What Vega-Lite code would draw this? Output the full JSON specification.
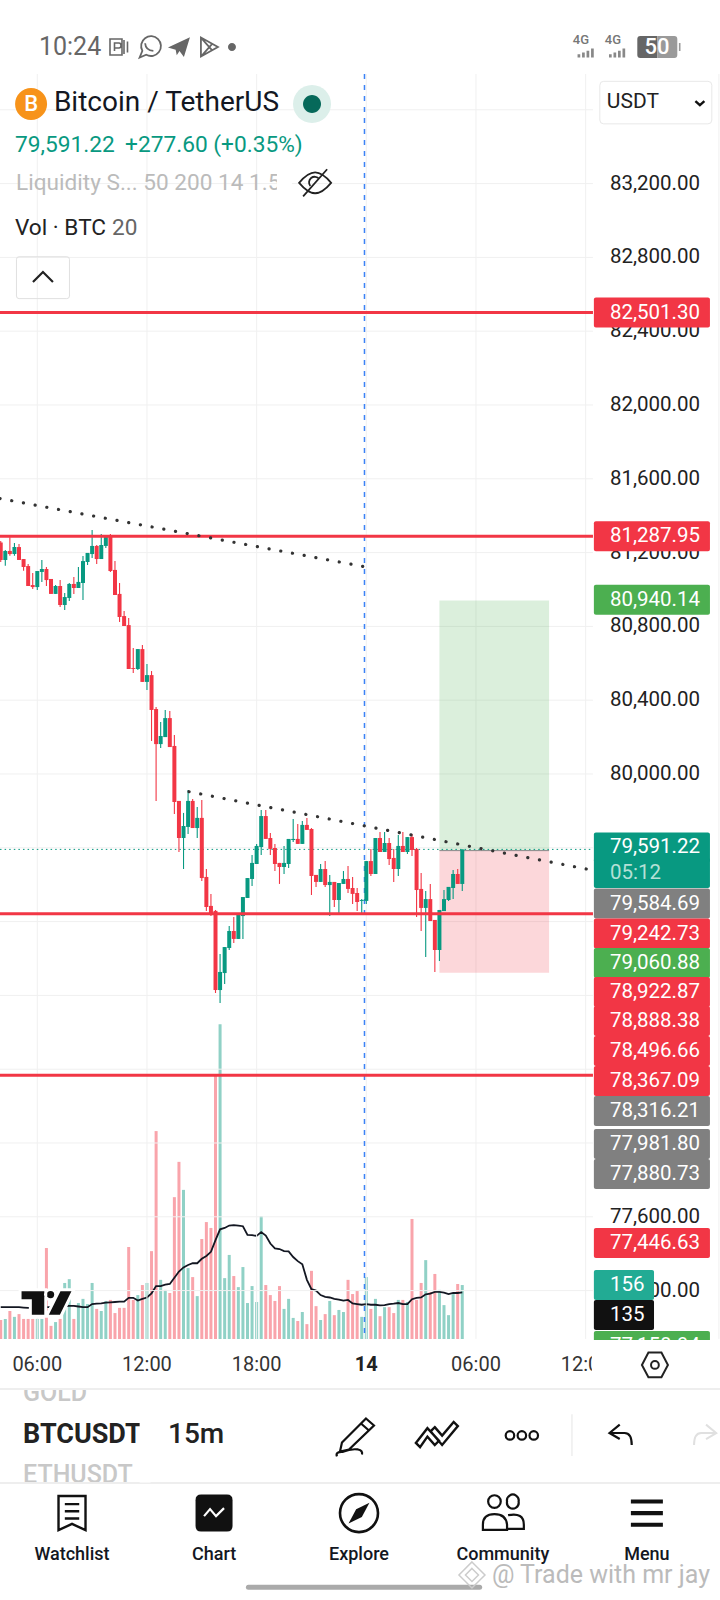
{
  "$schema": "https://vega.github.io/schema/vega-lite/v6.json",
  "width": 720,
  "height": 1600,
  "padding": 0,
  "autosize": "none",
  "background": "#ffffff",
  "config": {
    "view": {"stroke": null},
    "axis": {"disable": true},
    "legend": {"disable": true},
    "text": {"font": "Roboto", "baseline": "middle"}
  },
  "datasets": {
    "candles": [
      {"t":4,"open":81254,"high":81263,"low":81149,"close":81160,"vol":55,"ma":92},
      {"t":4.25,"open":81160,"high":81214,"low":81129,"close":81209,"vol":58,"ma":92},
      {"t":4.5,"open":81209,"high":81283,"low":81183,"close":81192,"vol":81,"ma":92},
      {"t":4.75,"open":81192,"high":81252,"low":81183,"close":81230,"vol":64,"ma":92},
      {"t":5,"open":81230,"high":81247,"low":81160,"close":81160,"vol":72,"ma":92},
      {"t":5.25,"open":81165,"high":81165,"low":81102,"close":81122,"vol":58,"ma":91},
      {"t":5.5,"open":81127,"high":81138,"low":81019,"close":81019,"vol":58,"ma":90},
      {"t":5.75,"open":81024,"high":81089,"low":81003,"close":81013,"vol":58,"ma":90},
      {"t":6,"open":81013,"high":81100,"low":80997,"close":81100,"vol":58,"ma":90},
      {"t":6.25,"open":81095,"high":81160,"low":81041,"close":81111,"vol":58,"ma":91},
      {"t":6.5,"open":81111,"high":81122,"low":81019,"close":81051,"vol":263,"ma":92},
      {"t":6.75,"open":81057,"high":81057,"low":80976,"close":80976,"vol":38,"ma":92},
      {"t":7,"open":80976,"high":81024,"low":80976,"close":81019,"vol":49,"ma":93},
      {"t":7.25,"open":81019,"high":81051,"low":80905,"close":80916,"vol":58,"ma":94},
      {"t":7.5,"open":80916,"high":80981,"low":80889,"close":80959,"vol":162,"ma":95},
      {"t":7.75,"open":80954,"high":81035,"low":80938,"close":81030,"vol":173,"ma":96},
      {"t":8,"open":81030,"high":81068,"low":80976,"close":81008,"vol":58,"ma":96},
      {"t":8.25,"open":81008,"high":81122,"low":81008,"close":81041,"vol":104,"ma":94},
      {"t":8.5,"open":81035,"high":81181,"low":80943,"close":81154,"vol":116,"ma":92},
      {"t":8.75,"open":81149,"high":81198,"low":81133,"close":81198,"vol":101,"ma":92},
      {"t":9,"open":81192,"high":81322,"low":81171,"close":81236,"vol":162,"ma":101},
      {"t":9.25,"open":81236,"high":81241,"low":81138,"close":81165,"vol":87,"ma":102},
      {"t":9.5,"open":81165,"high":81301,"low":81165,"close":81241,"vol":81,"ma":103},
      {"t":9.75,"open":81236,"high":81295,"low":81225,"close":81290,"vol":110,"ma":105},
      {"t":10,"open":81290,"high":81301,"low":81095,"close":81100,"vol":113,"ma":106},
      {"t":10.25,"open":81106,"high":81154,"low":80970,"close":80970,"vol":75,"ma":107},
      {"t":10.5,"open":80976,"high":81035,"low":80824,"close":80851,"vol":90,"ma":108},
      {"t":10.75,"open":80856,"high":80883,"low":80802,"close":80802,"vol":90,"ma":108},
      {"t":11,"open":80807,"high":80845,"low":80569,"close":80569,"vol":266,"ma":119},
      {"t":11.25,"open":80574,"high":80683,"low":80547,"close":80569,"vol":113,"ma":119},
      {"t":11.5,"open":80569,"high":80677,"low":80564,"close":80677,"vol":127,"ma":111},
      {"t":11.75,"open":80677,"high":80699,"low":80499,"close":80499,"vol":156,"ma":116},
      {"t":12,"open":80499,"high":80596,"low":80455,"close":80536,"vol":162,"ma":120},
      {"t":12.25,"open":80536,"high":80558,"low":80179,"close":80347,"vol":254,"ma":132},
      {"t":12.5,"open":80352,"high":80363,"low":79854,"close":80162,"vol":601,"ma":153},
      {"t":12.75,"open":80162,"high":80282,"low":80141,"close":80206,"vol":171,"ma":153},
      {"t":13,"open":80200,"high":80347,"low":80200,"close":80303,"vol":142,"ma":157},
      {"t":13.25,"open":80303,"high":80341,"low":80146,"close":80146,"vol":133,"ma":159},
      {"t":13.5,"open":80152,"high":80211,"low":79783,"close":79848,"vol":410,"ma":177},
      {"t":13.75,"open":79854,"high":79854,"low":79577,"close":79653,"vol":512,"ma":195},
      {"t":14,"open":79653,"high":79789,"low":79485,"close":79718,"vol":431,"ma":207},
      {"t":14.25,"open":79713,"high":79913,"low":79675,"close":79854,"vol":205,"ma":214},
      {"t":14.5,"open":79854,"high":79865,"low":79707,"close":79707,"vol":179,"ma":219},
      {"t":14.75,"open":79707,"high":79821,"low":79653,"close":79762,"vol":124,"ma":219},
      {"t":15,"open":79762,"high":79859,"low":79420,"close":79436,"vol":289,"ma":232},
      {"t":15.25,"open":79442,"high":79485,"low":79258,"close":79279,"vol":338,"ma":240},
      {"t":15.5,"open":79285,"high":79350,"low":79230,"close":79241,"vol":321,"ma":252},
      {"t":15.75,"open":79258,"high":79263,"low":78813,"close":78829,"vol":763,"ma":286},
      {"t":16,"open":78829,"high":79024,"low":78759,"close":78927,"vol":910,"ma":317},
      {"t":16.25,"open":78921,"high":79062,"low":78862,"close":79062,"vol":176,"ma":321},
      {"t":16.5,"open":79057,"high":79176,"low":79046,"close":79149,"vol":243,"ma":328},
      {"t":16.75,"open":79149,"high":79225,"low":79084,"close":79106,"vol":182,"ma":329},
      {"t":17,"open":79106,"high":79236,"low":79106,"close":79236,"vol":150,"ma":328},
      {"t":17.25,"open":79230,"high":79333,"low":79106,"close":79333,"vol":208,"ma":326},
      {"t":17.5,"open":79328,"high":79436,"low":79328,"close":79436,"vol":104,"ma":301},
      {"t":17.75,"open":79431,"high":79561,"low":79393,"close":79518,"vol":153,"ma":300},
      {"t":18,"open":79512,"high":79621,"low":79512,"close":79610,"vol":107,"ma":298},
      {"t":18.25,"open":79604,"high":79805,"low":79561,"close":79772,"vol":355,"ma":309},
      {"t":18.5,"open":79772,"high":79805,"low":79648,"close":79648,"vol":156,"ma":299},
      {"t":18.75,"open":79653,"high":79680,"low":79561,"close":79594,"vol":127,"ma":276},
      {"t":19,"open":79599,"high":79621,"low":79474,"close":79512,"vol":110,"ma":262},
      {"t":19.25,"open":79518,"high":79518,"low":79404,"close":79496,"vol":153,"ma":260},
      {"t":19.5,"open":79496,"high":79610,"low":79458,"close":79518,"vol":87,"ma":254},
      {"t":19.75,"open":79512,"high":79648,"low":79491,"close":79648,"vol":116,"ma":253},
      {"t":20,"open":79642,"high":79756,"low":79632,"close":79648,"vol":61,"ma":237},
      {"t":20.25,"open":79648,"high":79729,"low":79621,"close":79621,"vol":52,"ma":225},
      {"t":20.5,"open":79621,"high":79745,"low":79621,"close":79724,"vol":78,"ma":216},
      {"t":20.75,"open":79724,"high":79762,"low":79697,"close":79697,"vol":43,"ma":171},
      {"t":21,"open":79702,"high":79707,"low":79344,"close":79447,"vol":197,"ma":144},
      {"t":21.25,"open":79453,"high":79453,"low":79388,"close":79415,"vol":95,"ma":140},
      {"t":21.5,"open":79415,"high":79512,"low":79415,"close":79485,"vol":55,"ma":127},
      {"t":21.75,"open":79485,"high":79528,"low":79388,"close":79398,"vol":72,"ma":122},
      {"t":22,"open":79398,"high":79453,"low":79230,"close":79415,"vol":110,"ma":120},
      {"t":22.25,"open":79415,"high":79415,"low":79279,"close":79317,"vol":69,"ma":116},
      {"t":22.5,"open":79317,"high":79409,"low":79247,"close":79409,"vol":84,"ma":114},
      {"t":22.75,"open":79404,"high":79474,"low":79404,"close":79431,"vol":78,"ma":111},
      {"t":23,"open":79431,"high":79501,"low":79355,"close":79377,"vol":171,"ma":113},
      {"t":23.25,"open":79382,"high":79442,"low":79295,"close":79350,"vol":130,"ma":103},
      {"t":23.5,"open":79355,"high":79382,"low":79257,"close":79306,"vol":139,"ma":101},
      {"t":23.75,"open":79312,"high":79322,"low":79236,"close":79317,"vol":64,"ma":99},
      {"t":24,"open":79312,"high":79528,"low":79295,"close":79528,"vol":179,"ma":101},
      {"t":24.25,"open":79528,"high":79593,"low":79447,"close":79458,"vol":87,"ma":99},
      {"t":24.5,"open":79458,"high":79653,"low":79458,"close":79653,"vol":116,"ma":99},
      {"t":24.75,"open":79653,"high":79686,"low":79577,"close":79577,"vol":66,"ma":97},
      {"t":25,"open":79577,"high":79686,"low":79577,"close":79626,"vol":92,"ma":98},
      {"t":25.25,"open":79626,"high":79653,"low":79507,"close":79539,"vol":92,"ma":101},
      {"t":25.5,"open":79545,"high":79593,"low":79415,"close":79485,"vol":75,"ma":102},
      {"t":25.75,"open":79485,"high":79669,"low":79447,"close":79610,"vol":113,"ma":104},
      {"t":26,"open":79610,"high":79686,"low":79577,"close":79577,"vol":113,"ma":101},
      {"t":26.25,"open":79577,"high":79658,"low":79566,"close":79658,"vol":107,"ma":101},
      {"t":26.5,"open":79658,"high":79675,"low":79556,"close":79588,"vol":347,"ma":115},
      {"t":26.75,"open":79593,"high":79599,"low":79225,"close":79371,"vol":113,"ma":119},
      {"t":27,"open":79377,"high":79463,"low":79149,"close":79274,"vol":162,"ma":120},
      {"t":27.25,"open":79274,"high":79366,"low":79008,"close":79322,"vol":228,"ma":129},
      {"t":27.5,"open":79322,"high":79404,"low":79203,"close":79203,"vol":136,"ma":131},
      {"t":27.75,"open":79209,"high":79209,"low":78927,"close":79046,"vol":188,"ma":136},
      {"t":28,"open":79046,"high":79263,"low":78986,"close":79263,"vol":142,"ma":136},
      {"t":28.25,"open":79257,"high":79371,"low":79257,"close":79322,"vol":98,"ma":134},
      {"t":28.5,"open":79317,"high":79388,"low":79312,"close":79388,"vol":69,"ma":130},
      {"t":28.75,"open":79382,"high":79480,"low":79322,"close":79458,"vol":133,"ma":133},
      {"t":29,"open":79458,"high":79485,"low":79404,"close":79404,"vol":159,"ma":133},
      {"t":29.25,"open":79404,"high":79591.22,"low":79366,"close":79591.22,"vol":156,"ma":135}
    ],
    "levels": [
      {"price": 82501.30},
      {"price": 81287.95},
      {"price": 79242.73},
      {"price": 78367.09}
    ],
    "trends": [
      {"line": "upper", "t": 3.96, "price": 81493},
      {"line": "upper", "t": 24.2, "price": 81118},
      {"line": "lower", "t": 14.3, "price": 79904},
      {"line": "lower", "t": 36.5, "price": 79476}
    ],
    "position": [
      {"kind": "target", "from": 28, "to": 34, "entry": 79584.69, "exit": 80940.14},
      {"kind": "stop", "from": 28, "to": 34, "entry": 79584.69, "exit": 78922.87}
    ],
    "priceTicks": [
      {"price": 83600, "label": ""},
      {"price": 83200, "label": "83,200.00"},
      {"price": 82800, "label": "82,800.00"},
      {"price": 82400, "label": "82,400.00"},
      {"price": 82000, "label": "82,000.00"},
      {"price": 81600, "label": "81,600.00"},
      {"price": 81200, "label": "81,200.00"},
      {"price": 80800, "label": "80,800.00"},
      {"price": 80400, "label": "80,400.00"},
      {"price": 80000, "label": "80,000.00"},
      {"price": 79600, "label": ""},
      {"price": 79200, "label": ""},
      {"price": 78800, "label": ""},
      {"price": 78400, "label": ""},
      {"price": 78000, "label": ""},
      {"price": 77600, "label": "77,600.00"},
      {"price": 77200, "label": "77,200.00"}
    ],
    "timeTicks": [
      {"t": 6, "label": "06:00"},
      {"t": 12, "label": "12:00"},
      {"t": 18, "label": "18:00"},
      {"t": 24, "label": "14"},
      {"t": 30, "label": "06:00"},
      {"t": 36, "label": "12:00"}
    ],
    "tags": [
      {"label": "82,501.30", "kind": "level", "at": 82501},
      {"label": "81,287.95", "kind": "level", "at": 81288},
      {"label": "80,940.14", "kind": "target", "at": 80945},
      {"label": "79,591.22", "kind": "last", "at": 79602},
      {"label": "05:12", "kind": "timer", "at": 79463},
      {"label": "79,584.69", "kind": "muted", "at": 79298},
      {"label": "79,242.73", "kind": "level", "at": 79135},
      {"label": "79,060.88", "kind": "target", "at": 78976},
      {"label": "78,922.87", "kind": "level", "at": 78818},
      {"label": "78,888.38", "kind": "level", "at": 78661},
      {"label": "78,496.66", "kind": "level", "at": 78499},
      {"label": "78,367.09", "kind": "level", "at": 78336},
      {"label": "78,316.21", "kind": "muted", "at": 78173},
      {"label": "77,981.80", "kind": "muted", "at": 77995},
      {"label": "77,880.73", "kind": "muted", "at": 77832},
      {"label": "77,446.63", "kind": "level", "at": 77458},
      {"label": "77,158.94", "kind": "target", "at": 76900}
    ],
    "volumeTags": [
      {"label": "156", "kind": "vol", "at": 77230},
      {"label": "135", "kind": "ma", "at": 77068}
    ],
    "panelNotes": [
      {"text": "GOLD", "kind": "faded", "t": 5.22, "p": 76643},
      {"text": "15m", "kind": "pair", "t": 13.15, "p": 76415},
      {"text": "ETHUSDT", "kind": "faded", "t": 5.22, "p": 76198}
    ],
    "strips": [
      {"from": 3.96, "to": 43.35, "top": 76932, "bottom": 76667},
      {"from": 3.96, "to": 43.35, "top": 76157, "bottom": 75523}
    ],
    "clips": [
      {"from": 11.6, "to": 12.2, "top": 76660, "bottom": 76160},
      {"from": 36.34, "to": 37.77, "top": 76905, "bottom": 76688},
      {"from": 19.11, "to": 19.93, "top": 83274, "bottom": 83138}
    ],
    "notes": [
      {"text": "10:24", "kind": "status", "t": 6.09, "p": 83940},
      {"text": "Bitcoin / TetherUS", "kind": "title", "t": 6.91, "p": 83637},
      {"text": "79,591.22", "kind": "quote", "t": 4.78, "p": 83410},
      {"text": "+277.60 (+0.35%)", "kind": "quote", "t": 10.8, "p": 83410},
      {"text": "Liquidity S... 50 200 14 1.5", "kind": "study", "t": 4.84, "p": 83204},
      {"text": "Vol · BTC", "kind": "volume", "t": 4.78, "p": 82960},
      {"text": "20", "kind": "volumeN", "t": 10.09, "p": 82960},
      {"text": "USDT", "kind": "usdt", "t": 37.16, "p": 83642},
      {"text": "@ Trade with mr jay", "kind": "mark", "t": 30.87, "p": 75659}
    ],
    "centerNotes": [
      {"text": "Watchlist", "kind": "nav", "t": 7.9, "p": 75767},
      {"text": "Chart", "kind": "nav", "t": 15.67, "p": 75767},
      {"text": "Explore", "kind": "nav", "t": 23.6, "p": 75767},
      {"text": "Community", "kind": "nav", "t": 31.47, "p": 75767},
      {"text": "Menu", "kind": "nav", "t": 39.35, "p": 75767},
      {"text": "B", "kind": "coin", "t": 5.66, "p": 83631},
      {"text": "50", "kind": "battery", "t": 39.9, "p": 83940},
      {"text": "4G", "kind": "net", "t": 35.74, "p": 83978},
      {"text": "4G", "kind": "net", "t": 37.49, "p": 83978}
    ],
    "icons": [
      {"icon": "coin", "t": 5.66, "p": 83631},
      {"icon": "liveBg", "t": 21.03, "p": 83631},
      {"icon": "liveDot", "t": 21.03, "p": 83631},
      {"icon": "dot", "t": 16.65, "p": 83940},
      {"icon": "telegram", "t": 13.75, "p": 83940},
      {"icon": "pcard", "t": 10.47, "p": 83940},
      {"icon": "whatsapp", "t": 12.11, "p": 83940},
      {"icon": "play", "t": 15.39, "p": 83940},
      {"icon": "signal", "t": 36.0, "p": 83908},
      {"icon": "signal", "t": 37.72, "p": 83908},
      {"icon": "battLeft", "t": 39.92, "p": 83940},
      {"icon": "battRight", "t": 39.92, "p": 83940},
      {"icon": "eye", "t": 21.2, "p": 83204},
      {"icon": "boxSmall", "t": 6.31, "p": 82690},
      {"icon": "chevUp", "t": 6.31, "p": 82694},
      {"icon": "boxWide", "t": 39.84, "p": 83639},
      {"icon": "chevDown", "t": 42.25, "p": 83637},
      {"icon": "hexagon", "t": 39.79, "p": 76797},
      {"icon": "pencil", "t": 23.38, "p": 76404},
      {"icon": "zigzag", "t": 27.86, "p": 76420},
      {"icon": "more", "t": 32.51, "p": 76415},
      {"icon": "undo", "t": 37.93, "p": 76415},
      {"icon": "redo", "t": 42.52, "p": 76415},
      {"icon": "watchlist", "t": 7.9, "p": 75994},
      {"icon": "chartBox", "t": 15.67, "p": 75994},
      {"icon": "chartZig", "t": 15.67, "p": 75994},
      {"icon": "compass", "t": 23.6, "p": 75994},
      {"icon": "needle", "t": 23.6, "p": 75994},
      {"icon": "community", "t": 31.47, "p": 75994},
      {"icon": "menu", "t": 39.35, "p": 75994},
      {"icon": "markLogo", "t": 29.78, "p": 75659}
    ]
  },
  "resolve": {"scale": {"y": "independent"}},
  "layer": [
    {
      "data": {"name": "candles"},
      "layer": [
        {
          "mark": {"type": "bar", "size": 3, "orient": "vertical", "opacity": 0.45},
          "encoding": {
            "x": {"field": "t", "type": "quantitative", "scale": {"domain": [3.96, 43.35], "nice": false, "zero": false, "padding": 0}},
            "y": {"field": "vol", "type": "quantitative", "scale": {"domain": [-754.3, 3870], "nice": false, "zero": false}},
            "y2": {"datum": 0},
            "color": {"condition": {"test": "datum.close >= datum.open", "value": "#089981"}, "value": "#F23645"}
          }
        },
        {
          "mark": {"type": "line", "color": "#131722", "strokeWidth": 1.8},
          "encoding": {
            "x": {"field": "t", "type": "quantitative"},
            "y": {"field": "ma", "type": "quantitative"}
          }
        }
      ]
    },
    {
      "resolve": {"scale": {"color": "independent", "size": "independent"}},
      "layer": [
        {
          "data": {"name": "priceTicks"},
          "mark": {"type": "rule", "color": "#f0f0f0", "strokeWidth": 1},
          "encoding": {
            "x": {"datum": 3.96},
            "x2": {"datum": 36.4},
            "y": {"field": "price", "type": "quantitative", "scale": {"domain": [75523, 84195], "nice": false, "zero": false, "padding": 0}}
          }
        },
        {
          "data": {"values": [{"t": 6}, {"t": 12}, {"t": 18}, {"t": 24}, {"t": 30}, {"t": 36}, {"t": 43.29}]},
          "mark": {"type": "rule", "color": "#f0f0f0", "strokeWidth": 1},
          "encoding": {
            "x": {"field": "t", "type": "quantitative"},
            "y": {"datum": 83794},
            "y2": {"datum": 76938}
          }
        },
        {
          "data": {"name": "position"},
          "mark": {"type": "rect", "opacity": 0.2},
          "encoding": {
            "x": {"field": "from", "type": "quantitative"},
            "x2": {"field": "to"},
            "y": {"field": "entry", "type": "quantitative"},
            "y2": {"field": "exit"},
            "color": {"field": "kind", "type": "nominal", "scale": {"domain": ["target", "stop"], "range": ["#4CAF50", "#F23645"]}}
          }
        },
        {
          "data": {"values": [{"entry": 79584.69}]},
          "mark": {"type": "rule", "color": "#888888", "strokeWidth": 1},
          "encoding": {
            "x": {"datum": 28},
            "x2": {"datum": 34},
            "y": {"field": "entry", "type": "quantitative"}
          }
        },
        {
          "data": {"values": [{"last": 79591.22}]},
          "mark": {"type": "rule", "color": "#089981", "strokeWidth": 1, "strokeDash": [1.5, 3.1]},
          "encoding": {
            "x": {"datum": 3.96},
            "x2": {"datum": 36.4},
            "y": {"field": "last", "type": "quantitative"}
          }
        },
        {
          "data": {"values": [{"t": 23.9}]},
          "mark": {"type": "rule", "color": "#3b82f6", "strokeWidth": 1.5, "strokeDash": [5, 6]},
          "encoding": {
            "x": {"field": "t", "type": "quantitative"},
            "y": {"datum": 83794},
            "y2": {"datum": 76938}
          }
        },
        {
          "data": {"name": "candles"},
          "mark": {"type": "rule", "strokeWidth": 1.1},
          "encoding": {
            "x": {"field": "t", "type": "quantitative"},
            "y": {"field": "high", "type": "quantitative"},
            "y2": {"field": "low"},
            "color": {"condition": {"test": "datum.close >= datum.open", "value": "#089981"}, "value": "#F23645"}
          }
        },
        {
          "data": {"name": "candles"},
          "mark": {"type": "bar", "size": 4, "orient": "vertical"},
          "encoding": {
            "x": {"field": "t", "type": "quantitative"},
            "y": {"field": "open", "type": "quantitative"},
            "y2": {"field": "close"},
            "color": {"condition": {"test": "datum.close >= datum.open", "value": "#089981"}, "value": "#F23645"}
          }
        },
        {
          "data": {"name": "levels"},
          "mark": {"type": "rule", "color": "#F23645", "strokeWidth": 3},
          "encoding": {
            "x": {"datum": 3.96},
            "x2": {"datum": 36.4},
            "y": {"field": "price", "type": "quantitative"}
          }
        },
        {
          "data": {"name": "trends"},
          "mark": {"type": "line", "color": "#333333", "strokeWidth": 3.2, "strokeCap": "round", "strokeDash": [0.1, 11.8]},
          "encoding": {
            "x": {"field": "t", "type": "quantitative"},
            "y": {"field": "price", "type": "quantitative"},
            "detail": {"field": "line"}
          }
        },
        {
          "data": {"values": [{"t": 6.53, "p": 77133}]},
          "mark": {
            "type": "point",
            "filled": true,
            "size": 2900,
            "opacity": 1,
            "color": "#111111",
            "stroke": "#ffffff",
            "strokeWidth": 3,
            "shape": "M-1,-.49H-.045V.49H-.618V-.083H-1ZM-.056,-.312A.19,.19,0,1,1,.324,-.312A.19,.19,0,1,1,-.056,-.312ZM.465,-.49H1L.516,.49H-.019Z"
          },
          "encoding": {
            "x": {"field": "t", "type": "quantitative"},
            "y": {"field": "p", "type": "quantitative"}
          }
        },
        {
          "data": {"name": "priceTicks"},
          "mark": {"type": "text", "align": "left", "fontSize": 20.5, "color": "#222222"},
          "encoding": {
            "x": {"datum": 37.33},
            "y": {"field": "price", "type": "quantitative"},
            "text": {"field": "label"}
          }
        },
        {
          "data": {"name": "tags"},
          "mark": {"type": "bar", "orient": "horizontal", "size": 30, "cornerRadius": 2},
          "encoding": {
            "x": {"datum": 36.45},
            "x2": {"datum": 42.8},
            "y": {"field": "at", "type": "quantitative"},
            "color": {"field": "kind", "type": "nominal", "scale": {"domain": ["level", "target", "last", "timer", "muted"], "range": ["#F23645", "#4CAF50", "#089981", "#089981", "#808080"]}}
          }
        },
        {
          "data": {"name": "volumeTags"},
          "mark": {"type": "bar", "orient": "horizontal", "size": 30, "cornerRadius": 2},
          "encoding": {
            "x": {"datum": 36.45},
            "x2": {"datum": 39.74},
            "y": {"field": "at", "type": "quantitative"},
            "color": {"field": "kind", "type": "nominal", "scale": {"domain": ["vol", "ma"], "range": ["#22AB94", "#111111"]}}
          }
        },
        {
          "data": {"name": "tags"},
          "mark": {"type": "text", "align": "left", "fontSize": 20.5},
          "encoding": {
            "x": {"datum": 37.33},
            "y": {"field": "at", "type": "quantitative"},
            "text": {"field": "label"},
            "color": {"condition": {"test": "datum.kind === 'timer'", "value": "#b5e0d6"}, "value": "#ffffff"}
          }
        },
        {
          "data": {"name": "volumeTags"},
          "mark": {"type": "text", "align": "left", "fontSize": 20.5, "color": "#ffffff"},
          "encoding": {
            "x": {"datum": 37.33},
            "y": {"field": "at", "type": "quantitative"},
            "text": {"field": "label"}
          }
        },
        {
          "data": {"name": "panelNotes"},
          "mark": {"type": "text", "align": "left", "fontWeight": 500},
          "encoding": {
            "x": {"field": "t", "type": "quantitative"},
            "y": {"field": "p", "type": "quantitative"},
            "text": {"field": "text"},
            "size": {"field": "kind", "type": "nominal", "scale": {"type": "ordinal", "domain": ["faded", "pair"], "range": [25, 28]}},
            "color": {"field": "kind", "type": "nominal", "scale": {"domain": ["faded", "pair"], "range": ["#c8c8c8", "#222222"]}}
          }
        },
        {
          "data": {"values": [{"text": "BTCUSDT", "t": 5.22, "p": 76415}]},
          "mark": {"type": "text", "align": "left", "fontWeight": 700, "fontSize": 27, "color": "#222222"},
          "encoding": {
            "x": {"field": "t", "type": "quantitative"},
            "y": {"field": "p", "type": "quantitative"},
            "text": {"field": "text"}
          }
        },
        {
          "data": {"name": "strips"},
          "mark": {"type": "rect", "color": "#ffffff"},
          "encoding": {
            "x": {"field": "from", "type": "quantitative"},
            "x2": {"field": "to"},
            "y": {"field": "top", "type": "quantitative"},
            "y2": {"field": "bottom"}
          }
        },
        {
          "data": {"values": [{"p": 76667}, {"p": 76157}]},
          "mark": {"type": "rule", "color": "#eeeeee", "strokeWidth": 2},
          "encoding": {
            "x": {"datum": 3.96},
            "x2": {"datum": 43.35},
            "y": {"field": "p", "type": "quantitative"}
          }
        },
        {
          "data": {"values": [{"t": 35.25}]},
          "mark": {"type": "rule", "color": "#eeeeee", "strokeWidth": 1.5},
          "encoding": {
            "x": {"field": "t", "type": "quantitative"},
            "y": {"datum": 76530},
            "y2": {"datum": 76303}
          }
        },
        {
          "data": {"values": [{"from": 17.55, "to": 30.2, "p": 75592}]},
          "mark": {"type": "rule", "color": "#aaaaaa", "strokeWidth": 5, "strokeCap": "round"},
          "encoding": {
            "x": {"field": "from", "type": "quantitative"},
            "x2": {"field": "to"},
            "y": {"field": "p", "type": "quantitative"}
          }
        },
        {
          "data": {"name": "timeTicks"},
          "transform": [{"filter": "datum.label !== '14'"}],
          "mark": {"type": "text", "align": "center", "fontSize": 20, "color": "#333333"},
          "encoding": {
            "x": {"field": "t", "type": "quantitative"},
            "y": {"datum": 76797},
            "text": {"field": "label"}
          }
        },
        {
          "data": {"name": "timeTicks"},
          "transform": [{"filter": "datum.label === '14'"}],
          "mark": {"type": "text", "align": "center", "fontSize": 20, "fontWeight": 700, "color": "#222222"},
          "encoding": {
            "x": {"field": "t", "type": "quantitative"},
            "y": {"datum": 76797},
            "text": {"field": "label"}
          }
        },
        {
          "data": {"name": "notes"},
          "mark": {"type": "text", "align": "left"},
          "encoding": {
            "x": {"field": "t", "type": "quantitative"},
            "y": {"field": "p", "type": "quantitative"},
            "text": {"field": "text"},
            "size": {"field": "kind", "type": "nominal", "scale": {"type": "ordinal", "domain": ["status", "title", "quote", "study", "volume", "volumeN", "usdt", "mark"], "range": [25, 28, 22.7, 22.6, 22.6, 22.6, 21, 25]}},
            "color": {"field": "kind", "type": "nominal", "scale": {"domain": ["status", "title", "quote", "study", "volume", "volumeN", "usdt", "mark"], "range": ["#666666", "#131722", "#089981", "#bbbbbb", "#222222", "#666666", "#222222", "#bbbbbb"]}}
          }
        },
        {
          "data": {"name": "clips"},
          "mark": {"type": "rect", "color": "#ffffff"},
          "encoding": {
            "x": {"field": "from", "type": "quantitative"},
            "x2": {"field": "to"},
            "y": {"field": "top", "type": "quantitative"},
            "y2": {"field": "bottom"}
          }
        },
        {
          "data": {"name": "icons"},
          "mark": {"type": "point", "opacity": 1},
          "encoding": {
            "x": {"field": "t", "type": "quantitative"},
            "y": {"field": "p", "type": "quantitative"},
            "shape": {
              "field": "icon",
              "type": "nominal",
              "scale": {
                "domain": ["coin", "liveBg", "liveDot", "dot", "telegram", "pcard", "whatsapp", "play", "signal", "battLeft", "battRight", "eye", "boxSmall", "chevUp", "boxWide", "chevDown", "hexagon", "pencil", "zigzag", "more", "undo", "redo", "watchlist", "chartBox", "chartZig", "compass", "needle", "community", "menu", "markLogo"],
                "range": [
                  "M1,0A1,1,0,1,1,-1,0A1,1,0,1,1,1,0Z",
                  "M1,0A1,1,0,1,1,-1,0A1,1,0,1,1,1,0Z",
                  "M1,0A1,1,0,1,1,-1,0A1,1,0,1,1,1,0Z",
                  "M1,0A1,1,0,1,1,-1,0A1,1,0,1,1,1,0Z",
                  "M-1,.05L1,-.9L.45,.9L.05,.35L-.2,.75L-.3,.25Z",
                  "M-.9,-.8H.3V.8H-.9ZM-.45,.4V-.4H0Q.2,-.4,.2,-.15T0,.1H-.45M.5,-.7V.7M.85,-.55V.55",
                  "M-.85,.95L-.6,.35A.9,.9,0,1,1,-.25,.7ZM-.35,-.35Q-.3,.3,.4,.35",
                  "M-.8,-.95L.9,0L-.8,.95ZM-.8,-.95L.3,.3M-.8,.95L.3,-.3",
                  "M-.9,.5V.15H-.6V.5ZM-.4,.5V-.05H-.1V.5ZM.1,.5V-.25H.4V.5ZM.6,.5V-.5H.9V.5Z",
                  "M0,-.55H-.85Q-1,-.55,-1,-.4V.4Q-1,.55,-.85,.55H0Z",
                  "M0,-.55H.85Q1,-.55,1,-.4V.4Q1,.55,.85,.55H0ZM1.08,-.2H1.16V.2H1.08Z",
                  "M-1,0Q-.45,-.65,0,-.65T1,0Q.45,.65,0,.65T-1,0ZM.75,-.85L-.75,.85M-.3,.2A.35,.35,0,0,1,.25,-.25",
                  "M-.9,-.79H.9Q1,-.79,1,-.69V.69Q1,.79,.9,.79H-.9Q-1,.79,-1,.69V-.69Q-1,-.79,-.9,-.79Z",
                  "M-1,.5L0,-.5L1,.5",
                  "M-.93,-.38H.93Q1,-.38,1,-.31V.31Q1,.38,.93,.38H-.93Q-1,.38,-1,.31V-.31Q-1,-.38,-.93,-.38Z",
                  "M-1,-.4L0,.5L1,-.4",
                  "M-.5,-.95H.5L1,0L.5,.95H-.5L-1,0ZM.3,0A.3,.3,0,1,1,-.3,0A.3,.3,0,1,1,.3,0Z",
                  "M.55,-.95L.95,-.6L-.3,.6L-.75,.7L-.65,.25ZM.3,-.7L.7,-.35M-.9,.95Q-1,.7,-.6,.72Q-.2,.55,.15,.6Q.4,.65,.35,.85",
                  "M-1,.4L-.45,-.3L.1,.3L-.1,.5L-.45,.1L-.8,.6ZM-.1,-.35L.25,.05L.8,-.6L1,-.4L.25,.5L-.3,-.15Z",
                  "M-.45,0A.25,.25,0,1,1,-.95,0A.25,.25,0,1,1,-.45,0ZM.25,0A.25,.25,0,1,1,-.25,0A.25,.25,0,1,1,.25,0ZM.95,0A.25,.25,0,1,1,.45,0A.25,.25,0,1,1,.95,0Z",
                  "M-.1,-.9L-.95,-.2L-.1,.3M-.95,-.2H.3Q.9,-.2,.9,.8",
                  "M.1,-.9L.95,-.2L.1,.3M.95,-.2H-.3Q-.9,-.2,-.9,.8",
                  "M-.75,-.95H.75V.95L0,.6L-.75,.95ZM-.4,-.5H.4M-.4,-.1H.4M-.4,.3H.4",
                  "M-.7,-1H.7Q1,-1,1,-.7V.7Q1,1,.7,1H-.7Q-1,1,-1,.7V-.7Q-1,-1,-.7,-1Z",
                  "M-1,.3L-.4,-.4L.2,.3L1,-.5",
                  "M1,0A1,1,0,1,1,-1,0A1,1,0,1,1,1,0Z",
                  "M.55,-.55L.15,.2L-.55,.55L-.15,-.2Z",
                  "M-.1,-.55A.3,.3,0,1,1,-.7,-.55A.3,.3,0,1,1,-.1,-.55ZM.75,-.55A.28,.28,0,1,1,.2,-.55A.28,.28,0,1,1,.75,-.55ZM-.95,.8V.55Q-.95,.05,-.4,.05T.2,.55V.8ZM.25,.1Q1,-.05,1,.55V.75H.2",
                  "M-1,-.85H1V-.6H-1ZM-1,-.13H1V.13H-1ZM-1,.6H1V.85H-1Z",
                  "M0,-1L1,0L0,1L-1,0ZM0,-.5L.5,0L0,.5L-.5,0Z"
                ]
              }
            },
            "size": {
              "field": "icon",
              "type": "nominal",
              "scale": {
                "type": "ordinal",
                "domain": ["coin", "liveBg", "liveDot", "dot", "telegram", "pcard", "whatsapp", "play", "signal", "battLeft", "battRight", "eye", "boxSmall", "chevUp", "boxWide", "chevDown", "hexagon", "pencil", "zigzag", "more", "undo", "redo", "watchlist", "chartBox", "chartZig", "compass", "needle", "community", "menu", "markLogo"],
                "range": [1024, 1444, 324, 64, 484, 400, 484, 400, 324, 1600, 1600, 1024, 2809, 400, 12544, 81, 676, 1600, 1764, 1156, 576, 576, 1296, 1369, 400, 1444, 1444, 1764, 1024, 676]
              }
            },
            "fill": {
              "field": "icon",
              "type": "nominal",
              "scale": {
                "domain": ["coin", "liveBg", "liveDot", "dot", "telegram", "pcard", "whatsapp", "play", "signal", "battLeft", "battRight", "eye", "boxSmall", "chevUp", "boxWide", "chevDown", "hexagon", "pencil", "zigzag", "more", "undo", "redo", "watchlist", "chartBox", "chartZig", "compass", "needle", "community", "menu", "markLogo"],
                "range": ["#F7931A", "#dcefea", "#06695a", "#666666", "#666666", "transparent", "transparent", "transparent", "#888888", "#666666", "#9a9a9a", "transparent", "transparent", "transparent", "transparent", "transparent", "transparent", "transparent", "transparent", "transparent", "transparent", "transparent", "transparent", "#111111", "transparent", "transparent", "#111111", "transparent", "#111111", "transparent"]
              }
            },
            "stroke": {
              "field": "icon",
              "type": "nominal",
              "scale": {
                "domain": ["coin", "liveBg", "liveDot", "dot", "telegram", "pcard", "whatsapp", "play", "signal", "battLeft", "battRight", "eye", "boxSmall", "chevUp", "boxWide", "chevDown", "hexagon", "pencil", "zigzag", "more", "undo", "redo", "watchlist", "chartBox", "chartZig", "compass", "needle", "community", "menu", "markLogo"],
                "range": ["transparent", "transparent", "transparent", "transparent", "transparent", "#666666", "#666666", "#666666", "transparent", "transparent", "transparent", "#222222", "#e0e0e0", "#222222", "#e8e8e8", "#111111", "#222222", "#111111", "#111111", "#111111", "#111111", "#e0e0e0", "#111111", "transparent", "#ffffff", "#111111", "transparent", "#111111", "transparent", "#cccccc"]
              }
            },
            "strokeWidth": {
              "field": "icon",
              "type": "nominal",
              "scale": {
                "type": "ordinal",
                "domain": ["coin", "liveBg", "liveDot", "dot", "telegram", "pcard", "whatsapp", "play", "signal", "battLeft", "battRight", "eye", "boxSmall", "chevUp", "boxWide", "chevDown", "hexagon", "pencil", "zigzag", "more", "undo", "redo", "watchlist", "chartBox", "chartZig", "compass", "needle", "community", "menu", "markLogo"],
                "range": [0, 0, 0, 0, 0, 1.6, 1.8, 1.8, 0, 0, 0, 1.8, 1, 2.2, 1, 2.4, 2, 2.2, 2.4, 2.2, 2.2, 2, 2.4, 0, 2.2, 2.6, 0, 2.2, 0, 1.5]
              }
            }
          }
        },
        {
          "data": {"name": "centerNotes"},
          "mark": {"type": "text", "align": "center", "fontWeight": 500},
          "encoding": {
            "x": {"field": "t", "type": "quantitative"},
            "y": {"field": "p", "type": "quantitative"},
            "text": {"field": "text"},
            "size": {"field": "kind", "type": "nominal", "scale": {"type": "ordinal", "domain": ["nav", "coin", "battery", "net"], "range": [18, 22, 22, 13]}},
            "color": {"field": "kind", "type": "nominal", "scale": {"domain": ["nav", "coin", "battery", "net"], "range": ["#131722", "#ffffff", "#ffffff", "#777777"]}}
          }
        }
      ]
    }
  ]
}
